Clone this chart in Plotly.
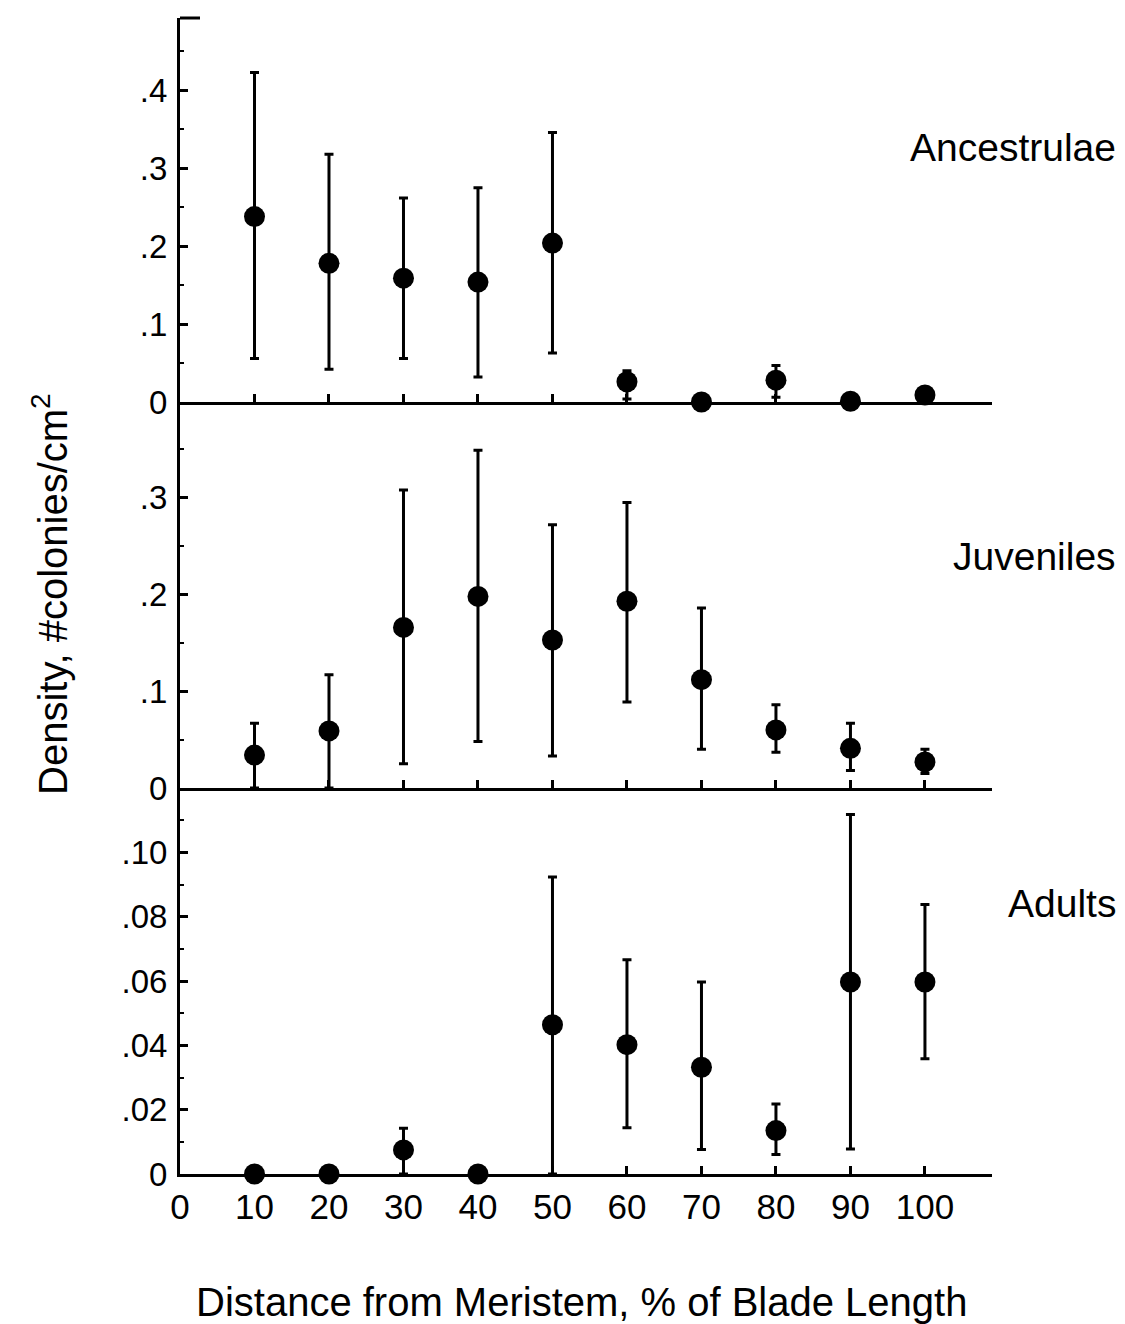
import plotly.graph_objects as go
from plotly.subplots import make_subplots

# Distance from meristem (% of blade length)
distance = [10, 20, 30, 40, 50, 60, 70, 80, 90, 100]

# Ancestrulae density: mean with upper / lower limits of the bars
anc_mean = [0.238, 0.178, 0.159, 0.154, 0.204, 0.026, 0.0, 0.028, 0.001, 0.009]
anc_upper = [0.423, 0.318, 0.262, 0.275, 0.346, 0.040, 0.0, 0.047, 0.001, 0.009]
anc_lower = [0.056, 0.042, 0.056, 0.032, 0.063, 0.004, 0.0, 0.006, 0.001, 0.009]

# Juveniles density
juv_mean = [0.034, 0.059, 0.166, 0.198, 0.153, 0.193, 0.112, 0.060, 0.041, 0.027]
juv_upper = [0.067, 0.117, 0.308, 0.349, 0.272, 0.295, 0.186, 0.086, 0.067, 0.040]
juv_lower = [0.0, 0.0, 0.025, 0.048, 0.033, 0.089, 0.040, 0.037, 0.018, 0.015]

# Adults density
adu_mean = [0.0, 0.0, 0.0075, 0.0, 0.0464, 0.0402, 0.0332, 0.0135, 0.0597, 0.0597]
adu_upper = [0.0, 0.0, 0.0142, 0.0, 0.0923, 0.0666, 0.0597, 0.0218, 0.1118, 0.0838]
adu_lower = [0.0, 0.0, 0.0, 0.0, 0.0, 0.0144, 0.0076, 0.0061, 0.0078, 0.0358]

panel_names = ["Ancestrulae", "Juveniles", "Adults"]

# y-axis ticks per panel
anc_ticks = [0, 0.1, 0.2, 0.3, 0.4]
anc_ticktext = ["0", ".1", ".2", ".3", ".4"]
juv_ticks = [0, 0.1, 0.2, 0.3]
juv_ticktext = ["0", ".1", ".2", ".3"]
adu_ticks = [0, 0.02, 0.04, 0.06, 0.08, 0.10]
adu_ticktext = ["0", ".02", ".04", ".06", ".08", ".10"]

x_ticks = [0, 10, 20, 30, 40, 50, 60, 70, 80, 90, 100]
x_ticktext = [str(v) for v in x_ticks]

FONT = "Liberation Sans, Arial, Helvetica, sans-serif"
W, H = 1125, 1324
L, R, T, B = 180, 133, 18, 150

fig = make_subplots(rows=3, cols=1, shared_xaxes=True, vertical_spacing=0)

series = [
    (anc_mean, anc_upper, anc_lower),
    (juv_mean, juv_upper, juv_lower),
    (adu_mean, adu_upper, adu_lower),
]
for i, (m, up, lo) in enumerate(series, start=1):
    fig.add_trace(
        go.Scatter(
            x=distance,
            y=m,
            mode="markers",
            marker=dict(color="black", size=21, line=dict(width=0)),
            error_y=dict(
                type="data",
                symmetric=False,
                array=[u - v for u, v in zip(up, m)],
                arrayminus=[v - l for v, l in zip(m, lo)],
                color="black",
                thickness=3,
                width=4.5,
            ),
            cliponaxis=False,
            showlegend=False,
        ),
        row=i,
        col=1,
    )

plot_h = H - T - B
h_top = 402 - T
h_mid = 788 - 402
dom_top = [1 - h_top / plot_h, 1]
dom_mid = [dom_top[0] - h_mid / plot_h, dom_top[0]]
dom_bot = [0, dom_mid[0]]

y_common = dict(
    showline=True,
    linecolor="black",
    linewidth=3,
    ticks="inside",
    ticklen=8,
    tickwidth=2.5,
    tickcolor="black",
    tickmode="array",
    showgrid=False,
    zeroline=False,
    ticklabelstandoff=3,
    tickfont=dict(family=FONT, size=33, color="black"),
)

fig.update_yaxes(
    **y_common, range=[0, 0.493], domain=dom_top, tickvals=anc_ticks, ticktext=anc_ticktext,
    minor=dict(ticks="inside", ticklen=4, tickwidth=2, tickcolor="black", dtick=0.05, tick0=0),
    row=1, col=1,
)
fig.update_yaxes(
    **y_common, range=[0, 0.399], domain=dom_mid, tickvals=juv_ticks, ticktext=juv_ticktext,
    minor=dict(ticks="inside", ticklen=4, tickwidth=2, tickcolor="black", dtick=0.05, tick0=0),
    row=2, col=1,
)
fig.update_yaxes(
    **y_common, range=[0, 0.12], domain=dom_bot, tickvals=adu_ticks, ticktext=adu_ticktext,
    minor=dict(ticks="inside", ticklen=4, tickwidth=2, tickcolor="black", dtick=0.01, tick0=0),
    row=3, col=1,
)

x_common = dict(
    range=[0, 109],
    showline=True,
    linecolor="black",
    linewidth=3,
    ticks="inside",
    ticklen=8,
    tickwidth=2.5,
    tickcolor="black",
    tickmode="array",
    tickvals=x_ticks,
    ticktext=x_ticktext,
    showgrid=False,
    zeroline=False,
    tickfont=dict(family=FONT, size=35, color="black"),
)
for r in (1, 2, 3):
    fig.update_xaxes(**x_common, showticklabels=(r == 3), row=r, col=1)
fig.update_xaxes(ticklabelstandoff=0, row=3, col=1)

pw = W - L - R


def px_x(p):
    return (p - L) / pw


def px_y(p):
    return (H - B - p) / plot_h


annotations = [
    dict(text=panel_names[0], x=px_x(1118), y=px_y(148)),
    dict(text=panel_names[1], x=px_x(1118), y=px_y(556)),
    dict(text=panel_names[2], x=px_x(1118), y=px_y(903)),
]
for a in annotations:
    fig.add_annotation(
        **a, xref="paper", yref="paper", xanchor="right", yanchor="middle",
        showarrow=False, font=dict(family=FONT, size=39, color="black"),
    )

fig.add_annotation(
    text="Density, #colonies/cm<sup>2</sup>",
    x=px_x(50), y=px_y(594), xref="paper", yref="paper",
    xanchor="center", yanchor="middle", textangle=-90, showarrow=False,
    font=dict(family=FONT, size=40, color="black"),
)
fig.add_annotation(
    text="Distance from Meristem, % of Blade Length",
    x=px_x(581), y=px_y(1302), xref="paper", yref="paper",
    xanchor="center", yanchor="middle", showarrow=False,
    font=dict(family=FONT, size=40, color="black"),
)

# small cap at the top of the vertical axis
fig.add_shape(
    type="line", xref="paper", yref="paper",
    x0=0, x1=px_x(200), y0=1, y1=1,
    line=dict(color="black", width=3),
)

fig.update_layout(
    width=W,
    height=H,
    margin=dict(l=L, r=R, t=T, b=B),
    paper_bgcolor="white",
    plot_bgcolor="white",
    font=dict(family=FONT, color="black"),
)

fig.write_html("out.html")
